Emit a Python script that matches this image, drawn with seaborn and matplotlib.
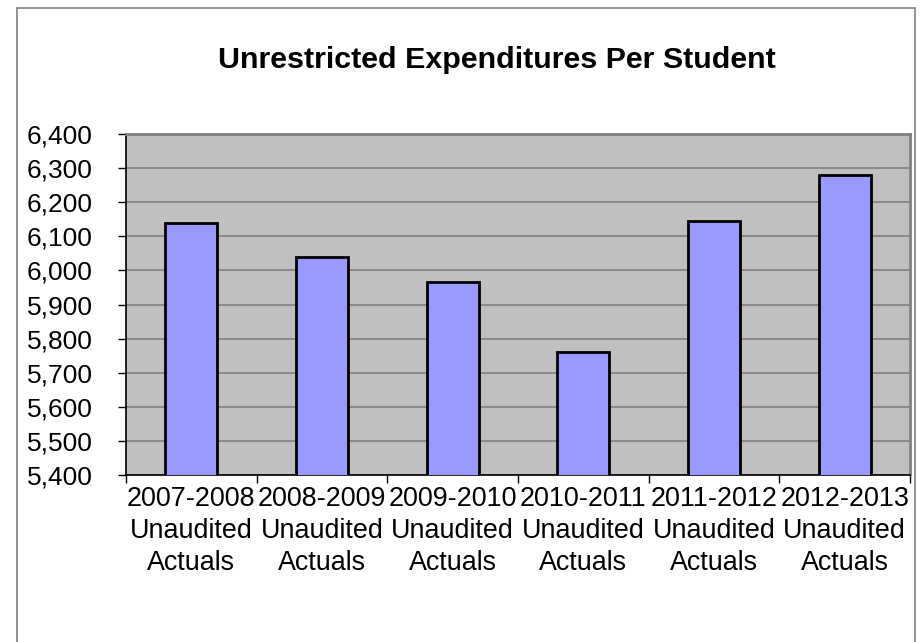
import matplotlib
matplotlib.use("Agg")
import matplotlib.pyplot as plt
import seaborn as sns
import pandas as pd
from matplotlib.patches import Rectangle
from matplotlib.ticker import FuncFormatter, FixedLocator

categories = ["2007-2008\nUnaudited\nActuals", "2008-2009\nUnaudited\nActuals",
              "2009-2010\nUnaudited\nActuals", "2010-2011\nUnaudited\nActuals",
              "2011-2012\nUnaudited\nActuals", "2012-2013\nUnaudited\nActuals"]
values = [6139, 6038, 5967, 5762, 6145, 6279]
yticks = [5400, 5500, 5600, 5700, 5800, 5900, 6000, 6100, 6200, 6300, 6400]

sns.set_theme(style="white")
plt.rcParams['font.family'] = ['Liberation Sans', 'DejaVu Sans']
plt.rcParams['text.color'] = 'black'
plt.rcParams['xtick.color'] = 'black'
plt.rcParams['ytick.color'] = 'black'
plt.rcParams['xtick.labelcolor'] = 'black'
plt.rcParams['ytick.labelcolor'] = 'black'

df = pd.DataFrame({"cat": categories, "val": values})

fig = plt.figure(figsize=(9.21, 6.42), dpi=100)
ax = fig.add_axes([126/921, 1-475/642, (910-126)/921, (475-134)/642])
ax.set_facecolor("#C0C0C0")

sns.barplot(data=df, x="cat", y="val", ax=ax, color="#9999FF", saturation=1,
            width=0.4, edgecolor="black", linewidth=2, zorder=3)

ax.set_ylim(5400, 6400)
ax.set_xlim(-0.5, 5.5)
ax.set_yticks(yticks)
ax.yaxis.set_major_formatter(FuncFormatter(lambda v, p: f"{int(v):,}"))
ax.grid(False)
for t in yticks:
    ax.axhline(t, color="#808080", lw=1.2, zorder=1)

# x ticks: marks at boundaries, labels at centers
ax.xaxis.set_major_locator(FixedLocator([i - 0.5 for i in range(7)]))
ax.xaxis.set_minor_locator(FixedLocator(list(range(6))))
ax.set_xticklabels([""] * 7)
labels = ax.set_xticklabels(categories, minor=True)
for lb in labels:
    lb.set_linespacing(1.3)
ax.tick_params(axis="x", which="major", length=6, width=1, color="black",
               direction="out", bottom=True)
ax.tick_params(axis="x", which="minor", length=0, pad=8, labelsize=19.4)
ax.tick_params(axis="y", length=6, width=1, color="black", direction="out",
               left=True, pad=18, labelsize=19)
ax.set_xlabel("")
ax.set_ylabel("")

for s in ["top", "right"]:
    ax.spines[s].set_color("#808080")
    ax.spines[s].set_linewidth(2)
for s in ["left", "bottom"]:
    ax.spines[s].set_color("black")
    ax.spines[s].set_linewidth(1.2)

fig.text(497/921, 1-60/642, "Unrestricted Expenditures Per Student", ha="center",
         va="center", fontsize=21.9, fontweight="bold", color="black")

fig.patches.append(Rectangle((17/921, -0.05), (915-17)/921, 1.05 - 8/642,
                             transform=fig.transFigure, fill=False,
                             edgecolor="#808080", linewidth=1.2))

fig.savefig("out.png", dpi=100)
